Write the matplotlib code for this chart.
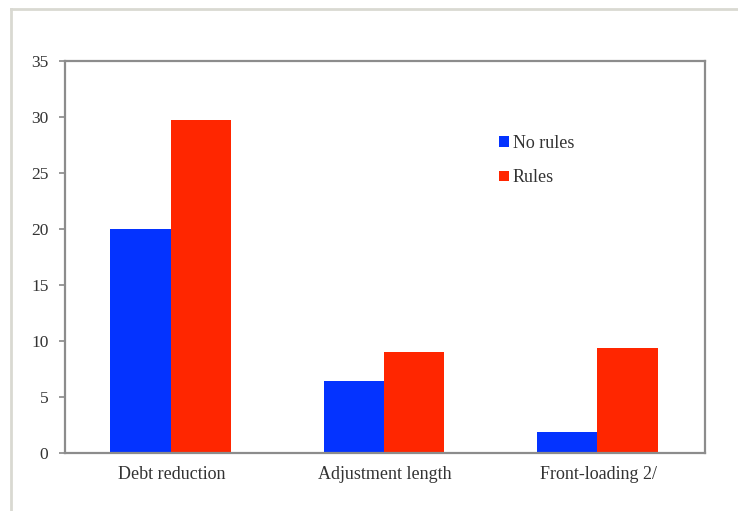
import matplotlib.pyplot as plt
import matplotlib.lines as mlines
import numpy as np

categories = ['Debt reduction', 'Adjustment length', 'Front-loading 2/']
no_rules = [20.0, 6.4, 1.9]
rules = [29.7, 9.0, 9.4]
yticks = [0, 5, 10, 15, 20, 25, 30, 35]

plt.rcParams['font.family'] = ['Liberation Serif', 'DejaVu Serif']

fig = plt.figure(figsize=(7.38, 5.11), dpi=100)
ax = fig.add_axes([65/738, 1-453/511, 640/738, 392/511])

x = np.arange(len(categories))
w = 0.283
ax.bar(x - 0.005, no_rules, width=-w, align='edge', color='#0433ff', label='No rules')
ax.bar(x - 0.005, rules, width=w, align='edge', color='#ff2600', label='Rules')

ax.set_xlim(-0.5, 2.5)
ax.set_ylim(0, 35)
ax.set_yticks(yticks)
ax.set_xticks(x)
ax.set_xticklabels(categories, fontsize=13, color='#333333')
ax.tick_params(axis='y', labelsize=12.5, labelcolor='#333333', color='#888888',
               length=4, width=1.2, pad=8)
ax.tick_params(axis='x', length=0, pad=9)
for s in ax.spines.values():
    s.set_color('#8c8c8c')
    s.set_linewidth(1.6)

ax.legend(loc='upper left', bbox_to_anchor=(0.653, 0.852), frameon=False,
          fontsize=13, handlelength=0.55, handleheight=0.55, handletextpad=0.2,
          labelspacing=0.95, labelcolor='#333333')

# light frame around the figure
fig.add_artist(mlines.Line2D([11/738, 1], [1-9/511, 1-9/511], color='#d9d9d2', lw=2))
fig.add_artist(mlines.Line2D([11/738, 11/738], [0, 1-9/511], color='#d9d9d2', lw=2))

fig.savefig('out.png', dpi=100)
